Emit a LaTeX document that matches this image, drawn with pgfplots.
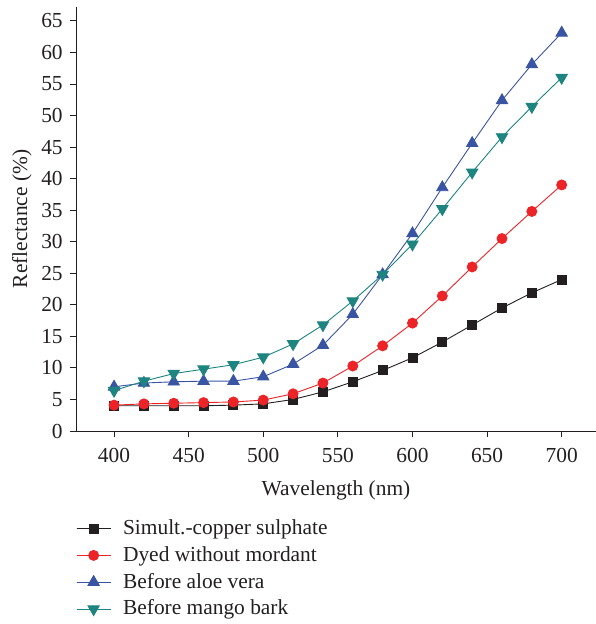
\documentclass[border=0pt]{standalone}
\usepackage{fontspec}
\setmainfont{Liberation Serif}
\usepackage{pgfplots}
\pgfplotsset{compat=1.18}
\definecolor{sqc}{HTML}{231F20}
\definecolor{redc}{HTML}{EC2427}
\definecolor{bluec}{HTML}{3A54A4}
\definecolor{tealc}{HTML}{1D8480}
\begin{document}
\fontsize{21.4}{25}\selectfont
\begin{tikzpicture}
\begin{axis}[
  scale only axis, width=520pt, height=424pt,
  xmin=374.5, xmax=723, ymin=0, ymax=67.2,
  axis x line=bottom, axis y line=left,
  axis line style={-, draw=sqc, line width=0.9pt},
  xtick={400,450,...,700}, ytick={0,5,...,65},
  tick align=outside, major tick length=6pt,
  tick style={draw=sqc, line width=0.9pt},
  /pgf/number format/assume math mode=true,
  tick label style={font=\fontsize{21.4}{25}\selectfont, text=sqc},
  xticklabel style={yshift=-4pt},
  label style={font=\fontsize{21.4}{25}\selectfont, text=sqc},
  xlabel={Wavelength (nm)}, ylabel={Reflectance (\%)},
  xlabel style={yshift=-3pt},
  ylabel style={yshift=-5pt},
  legend style={at={(0,-0.204)}, anchor=north west, draw=none, fill=none,
    inner sep=0pt, font=\fontsize{21.4}{25}\selectfont, text=sqc,
    nodes={inner sep=2pt}, cells={anchor=west}, row sep=4.6pt,
    /tikz/every odd column/.append style={column sep=10pt}},
  legend image code/.code={\draw[mark repeat=2, mark phase=2]
    plot coordinates {(0pt,0pt) (17pt,0pt) (34pt,0pt)};},
  every axis plot/.append style={line width=0.9pt},
]
\addplot[sqc, mark=square*, mark size=4.5pt, mark options={solid}] coordinates {
 (400,4.0) (420,4.0) (440,4.0) (460,4.0) (480,4.1) (500,4.3) (520,5.0) (540,6.2)
 (560,7.8) (580,9.6) (600,11.6) (620,14.1) (640,16.8) (660,19.5) (680,21.9) (700,24.0)};
\addlegendentry{Simult.-copper sulphate}
\addplot[redc, mark=*, mark size=5pt] coordinates {
 (400,4.1) (420,4.3) (440,4.4) (460,4.5) (480,4.6) (500,4.9) (520,5.9) (540,7.6)
 (560,10.3) (580,13.5) (600,17.1) (620,21.4) (640,26.0) (660,30.5) (680,34.8) (700,39.0)};
\addlegendentry{Dyed without mordant}
\addplot[bluec, mark=triangle*, mark size=6.5pt] coordinates {
 (400,7.0) (420,7.6) (440,7.8) (460,7.9) (480,7.9) (500,8.6) (520,10.6) (540,13.6)
 (560,18.5) (580,24.8) (600,31.3) (620,38.6) (640,45.6) (660,52.4) (680,58.1) (700,63.1)};
\addlegendentry{Before aloe vera}
\addplot[tealc, mark=triangle*, mark size=6.5pt, mark options={rotate=180}] coordinates {
 (400,6.4) (420,7.9) (440,9.1) (460,9.8) (480,10.5) (500,11.7) (520,13.8) (540,16.8)
 (560,20.6) (580,24.8) (600,29.6) (620,35.2) (640,41.0) (660,46.6) (680,51.4) (700,56.0)};
\addlegendentry{Before mango bark}
\end{axis}
\pgfresetboundingbox
\path (current axis.origin) ++(-76pt,-193pt) rectangle ++(596pt,624pt);
\end{tikzpicture}
\end{document}
